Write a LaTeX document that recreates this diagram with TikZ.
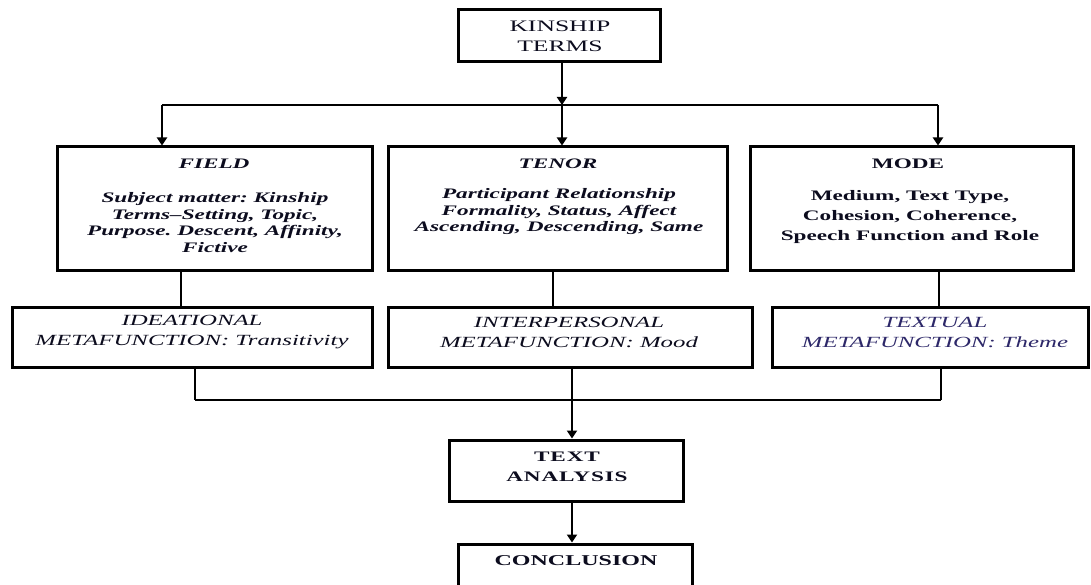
\documentclass[tikz,border=0pt]{standalone}
\usepackage{fontspec}
\setmainfont{Liberation Serif}[FakeStretch=1.6]
\usetikzlibrary{arrows.meta}
\definecolor{ink}{RGB}{12,12,30}
\definecolor{navy}{RGB}{45,40,105}
\tikzset{
  box/.style={draw=black, line width=3pt, fill=none, inner sep=0pt},
  conn/.style={draw=black, line width=2.3pt},
  arr/.style={conn, -{Triangle[length=8pt,width=10pt]}},
  txt/.style={align=center, inner sep=0pt, text=ink, font=\fontsize{14.5}{17}\selectfont},
}
\frenchspacing
\begin{document}
\begin{tikzpicture}[x=1pt,y=-1pt]
\useasboundingbox (0,0) rectangle (1091,585);
\clip (0,0) rectangle (1091,585);
\fill[white] (0,0) rectangle (1091,585);

% boxes
\node[box, minimum width=202, minimum height=52] (kin) at (559,36) {};
\node[box, minimum width=315, minimum height=123] (field) at (214.5,208.5) {};
\node[box, minimum width=339, minimum height=123] (tenor) at (557.5,208.5) {};
\node[box, minimum width=323, minimum height=123] (mode) at (911.5,208.5) {};
\node[box, minimum width=360, minimum height=60] (ide) at (192,337) {};
\node[box, minimum width=364, minimum height=60] (inter) at (570,337) {};
\node[box, minimum width=316, minimum height=60] (textual) at (930,337) {};
\node[box, minimum width=234, minimum height=61] (ta) at (566,470.5) {};
\node[box, minimum width=234, minimum height=76] (conc) at (575,582) {};

% texts
\node[txt, font=\fontsize{16}{20}\selectfont] (kint) at (560,36) {KINSHIP\\TERMS};
\node[txt, font=\fontsize{14.5}{17}\selectfont\bfseries\itshape] (fieldt) at (214,164) {FIELD};
\node[txt, font=\fontsize{14.5}{16.4}\selectfont\bfseries\itshape] (fieldb) at (215,222.5)
  {Subject matter: Kinship\\Terms--Setting, Topic,\\Purpose. Descent, Affinity,\\Fictive};
\node[txt, font=\fontsize{14.5}{17}\selectfont\bfseries\itshape] (tenort) at (558,164) {TENOR};
\node[txt, font=\fontsize{14.5}{16.5}\selectfont\bfseries\itshape] (tenorb) at (559,212)
  {Participant Relationship\\Formality, Status, Affect\\Ascending, Descending, Same};
\node[txt, font=\fontsize{14.5}{17}\selectfont\bfseries] (modet) at (908,164) {MODE};
\node[txt, font=\fontsize{14.5}{20}\selectfont\bfseries] (modeb) at (910,217)
  {Medium, Text Type,\\Cohesion, Coherence,\\Speech Function and Role};
\node[txt, font=\fontsize{15.5}{20}\selectfont\itshape] (idet) at (192,332)
  {IDEATIONAL\\METAFUNCTION: Transitivity};
\node[txt, font=\fontsize{15.5}{20}\selectfont\itshape] (intert) at (569,332)
  {INTERPERSONAL\\METAFUNCTION: Mood};
\node[txt, text=navy, font=\fontsize{15.5}{20}\selectfont\itshape] (textualt) at (935,332)
  {TEXTUAL\\METAFUNCTION: Theme};
\node[txt, font=\fontsize{14.5}{20}\selectfont\bfseries\addfontfeatures{LetterSpace=6}] (tat) at (567,467)
  {TEXT\\ANALYSIS};
\node[txt, font=\fontsize{15}{18}\selectfont\bfseries] (conct) at (576,561) {CONCLUSION};

% junction coordinates
\coordinate (j1) at (562,105);
\coordinate (hl) at (162,105);
\coordinate (hr) at (938,105);
\coordinate (b1) at (195,400);
\coordinate (b2) at (572,400);
\coordinate (b3) at (941,400);

% top distribution
\draw[arr] (kin.south -| j1) -- (j1);
\draw[conn] (hl) -- (hr);
\draw[arr] (hl) -- (hl |- field.north);
\draw[arr] (j1) -- (j1 |- tenor.north);
\draw[arr] (hr) -- (hr |- mode.north);

% register to metafunction
\draw[conn] ([xshift=-33.5pt]field.south) -- ([xshift=-33.5pt]field.south |- ide.north);
\draw[conn] ([xshift=-4.5pt]tenor.south) -- ([xshift=-4.5pt]tenor.south |- inter.north);
\draw[conn] ([xshift=27.5pt]mode.south) -- ([xshift=27.5pt]mode.south |- textual.north);

% metafunctions to text analysis
\draw[conn] (b1 |- ide.south) -- (b1);
\draw[conn] (b2 |- inter.south) -- (b2);
\draw[conn] (b3 |- textual.south) -- (b3);
\draw[conn] (b1) -- (b3);
\draw[arr] (b2) -- (b2 |- ta.north);
\draw[arr] (b2 |- ta.south) -- (b2 |- conc.north);
\end{tikzpicture}
\end{document}
